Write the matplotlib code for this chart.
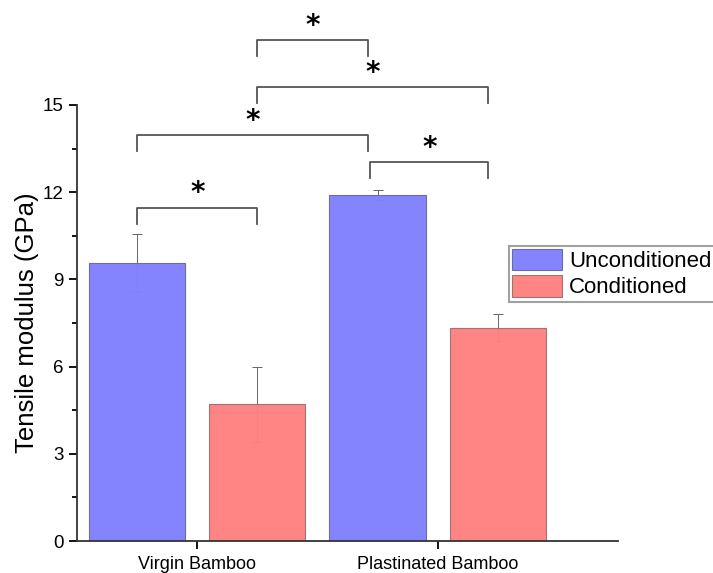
import numpy as np
import matplotlib.pyplot as plt

plt.rcParams['font.family'] = ['Liberation Sans', 'DejaVu Sans']

groups = ['Virgin Bamboo', 'Plastinated Bamboo']
unconditioned = [9.55, 11.90]
unconditioned_err = [1.00, 0.17]
conditioned = [4.70, 7.34]
conditioned_err = [1.28, 0.46]

# significance brackets: (x left, x right, height), all marked '*'
brackets = [
    (0.25, 0.71, 17.23),
    (0.25, 1.21, 15.62),
    (-0.25, 0.71, 13.97),
    (0.72, 1.21, 13.04),
    (-0.25, 0.25, 11.46),
]

x = np.arange(len(groups))
width = 0.40
offset = 0.25

fig = plt.figure(figsize=(7.13, 5.73), dpi=100)
ax = fig.add_axes([0.108, 0.0558, 0.7588, 0.761])

err_kw = dict(ecolor='#666666', elinewidth=0.7, capsize=3.6, capthick=0.7, zorder=1)
ax.errorbar(x - offset, unconditioned, yerr=unconditioned_err, fmt='none', **err_kw)
ax.errorbar(x + offset, conditioned, yerr=conditioned_err, fmt='none', **err_kw)
ax.bar(x - offset, unconditioned, width, color='#8080ff', edgecolor='#6a6a9a',
       linewidth=0.8, label='Unconditioned', zorder=2, alpha=0.97)
ax.bar(x + offset, conditioned, width, color='#ff8080', edgecolor='#a07070',
       linewidth=0.8, label='Conditioned', zorder=2, alpha=0.97)

leg_h = 0.55
for x0, x1, h in brackets:
    ax.plot([x0, x0, x1, x1], [h - leg_h, h, h, h - leg_h], color='#555555',
            lw=1.3, clip_on=False, solid_joinstyle='round')
    ax.text((x0 + x1) / 2, h + 0.22, '*', ha='center', va='baseline',
            fontsize=20, fontweight='bold', family='DejaVu Sans', clip_on=False)

ax.set_xlim(-0.5, 1.75)
ax.set_ylim(0, 15)
ax.set_yticks([0, 3, 6, 9, 12, 15])
ax.set_yticks(np.arange(1.5, 15, 3), minor=True)
ax.set_xticks(x)
ax.set_xticklabels(groups, fontsize=13)
ax.tick_params(axis='y', labelsize=13.5, length=6, width=1.3, direction='out')
ax.tick_params(axis='y', which='minor', length=3.5, width=1.3)
ax.tick_params(axis='x', length=6, width=1.3, direction='out', pad=5)
ax.set_ylabel('Tensile modulus (GPa)', fontsize=18.5, labelpad=3)

for side in ['top', 'right']:
    ax.spines[side].set_visible(False)
for side in ['left', 'bottom']:
    ax.spines[side].set_linewidth(1.3)
    ax.spines[side].set_color('#333333')

leg = fig.legend(loc='upper left', bbox_to_anchor=(0.714, 0.571), fontsize=16,
                 frameon=True, fancybox=False, edgecolor='#888888',
                 handlelength=2.25, handleheight=1.1, labelspacing=0.13,
                 handletextpad=0.3, borderpad=0.15, borderaxespad=0)
leg.get_frame().set_linewidth(1.5)

fig.savefig('out.png', dpi=100)
